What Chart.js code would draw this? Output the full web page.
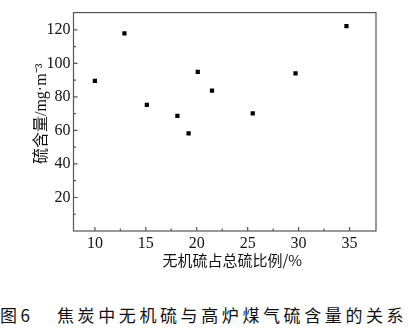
<!DOCTYPE html>
<html>
<head>
<meta charset="utf-8">
<script src="https://cdn.jsdelivr.net/npm/chart.js@4.4.0/dist/chart.umd.min.js"></script>
<style>
  body { margin: 0; background: #fff; width: 414px; height: 332px; overflow: hidden; position: relative; }
  #wrap { position: absolute; left: 0; top: 0; width: 414px; height: 280px; }
  .cap { position: absolute; top: 302px; font-family: "Noto Sans CJK SC", sans-serif; font-size: 17px; color: #111; white-space: nowrap; letter-spacing: 3.6px; }
</style>
</head>
<body>
<div id="wrap"><canvas id="c" width="414" height="280"></canvas></div>
<span class="cap" style="left:0px">图6</span>
<span class="cap" style="left:57px">焦炭中无机硫与高炉煤气硫含量的关系</span>
<script>
// inorganic sulfur share of total sulfur (%)
const inorganicShare = [10.0, 12.9, 15.1, 18.1, 19.2, 20.1, 21.5, 25.5, 29.7, 34.7];
// sulfur content of BF gas (mg/m3)
const sulfurContent = [89.5, 117.9, 75.2, 68.7, 58.3, 95.0, 83.7, 70.2, 94.1, 122.3];

const xTicks = [10, 15, 20, 25, 30, 35];
const xMinor = [12.5, 17.5, 22.5, 27.5, 32.5];
const yTicks = [20, 40, 60, 80, 100, 120];
const yMinor = [10, 30, 50, 70, 90, 110];

// leading em space nudges the titles off-centre like the original
const xTitle = '\u2003无机硫占总硫比例/%';
const yTitle = '\u2003硫含量/mg·m⁻³';

const points = inorganicShare.map((x, i) => ({ x: x, y: sulfurContent[i] }));

// frame + inward ticks, like the original plot
const frameTicks = {
  id: 'frameTicks',
  afterDraw(chart) {
    const ctx = chart.ctx;
    const a = chart.chartArea;
    const xs = chart.scales.x, ys = chart.scales.y;
    ctx.save();
    ctx.strokeStyle = '#555';
    ctx.lineWidth = 1.2;
    ctx.strokeRect(a.left, a.top, a.right - a.left, a.bottom - a.top);
    ctx.beginPath();
    xTicks.forEach(v => { const p = xs.getPixelForValue(v); ctx.moveTo(p, a.bottom); ctx.lineTo(p, a.bottom - 4); });
    xMinor.forEach(v => { const p = xs.getPixelForValue(v); ctx.moveTo(p, a.bottom); ctx.lineTo(p, a.bottom - 2.5); });
    yTicks.forEach(v => { const p = ys.getPixelForValue(v); ctx.moveTo(a.left, p); ctx.lineTo(a.left + 4, p); });
    yMinor.forEach(v => { const p = ys.getPixelForValue(v); ctx.moveTo(a.left, p); ctx.lineTo(a.left + 2.5, p); });
    ctx.stroke();
    ctx.restore();
  }
};

new Chart(document.getElementById('c'), {
  type: 'scatter',
  data: {
    datasets: [{
      data: points,
      pointStyle: 'rect',
      pointRadius: 3,
      backgroundColor: '#000',
      borderColor: '#000',
      borderWidth: 0
    }]
  },
  options: {
    responsive: false,
    animation: false,
    layout: { padding: { top: 4, right: 38, left: 0, bottom: 0 } },
    plugins: { legend: { display: false }, tooltip: { enabled: false } },
    scales: {
      x: {
        type: 'linear',
        min: 7.9,
        max: 37.6,
        grid: { display: false, drawTicks: false },
        border: { display: false },
        afterBuildTicks: s => { s.ticks = xTicks.map(v => ({ value: v })); },
        afterFit: s => { s.height = 49; },
        ticks: {
          padding: 3,
          color: '#111',
          font: { family: 'Liberation Serif', size: 16 }
        },
        title: {
          display: true,
          text: xTitle,
          color: '#111',
          padding: { top: 0, bottom: 11 },
          font: { family: '"Noto Sans CJK SC", sans-serif', size: 15 }
        }
      },
      y: {
        min: 0,
        max: 130.3,
        grid: { display: false, drawTicks: false },
        border: { display: false },
        afterBuildTicks: s => { s.ticks = yTicks.map(v => ({ value: v })); },
        afterFit: s => { s.width = 73.5; },
        ticks: {
          padding: 3,
          color: '#111',
          font: { family: 'Liberation Serif', size: 16 }
        },
        title: {
          display: true,
          text: yTitle,
          color: '#111',
          padding: { top: 32, bottom: 0 },
          font: { family: '"Liberation Serif", "Noto Sans CJK SC", serif', size: 16 }
        }
      }
    }
  },
  plugins: [frameTicks]
});
</script>
</body>
</html>
